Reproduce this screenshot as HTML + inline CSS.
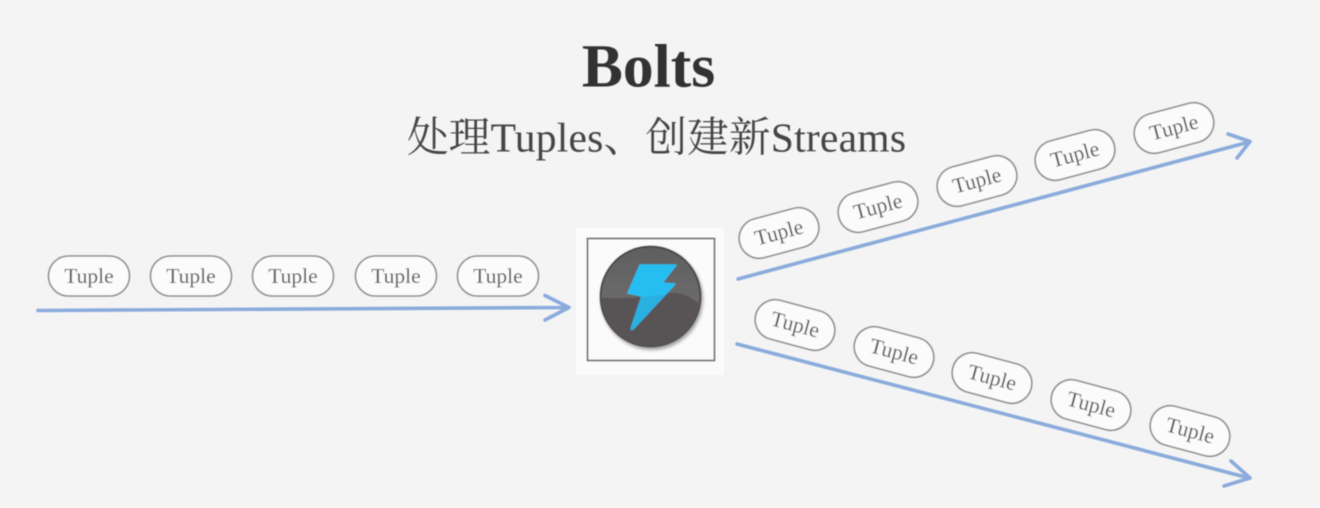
<!DOCTYPE html>
<html lang="zh">
<head>
<meta charset="utf-8">
<title>Bolts</title>
<style>
html,body{margin:0;padding:0;background:#f4f4f4;width:1320px;height:508px;overflow:hidden}
svg{display:block}
text{font-family:"Liberation Serif","Noto Serif CJK SC",serif}
.t text{font-size:21.5px;fill:#565656;text-anchor:middle}
.t rect{fill:#fbfbfb;stroke:#8e8e8e;stroke-width:1.6}
.a{fill:none;stroke:#8aabdc;stroke-width:3.6;stroke-linecap:round;stroke-linejoin:round}
</style>
</head>
<body>
<svg width="1320" height="508" viewBox="0 0 1320 508" xmlns="http://www.w3.org/2000/svg">
<defs>
<filter id="b" x="-5%" y="-5%" width="110%" height="110%"><feGaussianBlur stdDeviation="0.65"/></filter>
<filter id="s" x="-15%" y="-15%" width="130%" height="130%"><feGaussianBlur stdDeviation="1.6"/></filter>
<linearGradient id="top" x1="0" y1="0" x2="0" y2="1"><stop offset="0" stop-color="#5f5f60"/><stop offset="1" stop-color="#747476"/></linearGradient>
<clipPath id="c"><circle cx="650.5" cy="296.5" r="50"/></clipPath>
<clipPath id="lower"><path d="M600 298C625 299 650 297 672 293C683 292 693 298 702 306V350H600Z"/></clipPath>
</defs>
<rect width="1320" height="508" fill="#f4f4f4"/>
<g filter="url(#b)">
<text x="648.500" y="86.500" font-size="61.500" font-weight="700" fill="#333" text-anchor="middle">Bolts</text>
<text x="407" y="151.500" font-size="41.6" fill="#444" textLength="499" lengthAdjust="spacing">处理Tuples、创建新Streams</text>
</g>
<g filter="url(#b)">
<rect x="576" y="228" width="148" height="147" fill="#fbfbfb"/>
<rect x="587.5" y="238.5" width="127" height="122" fill="#fbfbfb" stroke="#7f7f7f" stroke-width="2"/>
<circle cx="652" cy="299" r="51" fill="#a0a0a0" filter="url(#s)"/>
<circle cx="650.5" cy="296.5" r="50" fill="url(#top)" stroke="#4a4a4c" stroke-width="2"/>
<path clip-path="url(#c)" d="M600 298C625 299 650 297 672 293C683 292 693 298 702 306V350H600Z" fill="#585254"/>
<path d="M640 265L676 265L662 283L675 284L634 328Q630 332 632 326L642 296L628 293Z" fill="#26bdf0" stroke="#26bdf0" stroke-width="1.5" stroke-linejoin="round"/>
<path clip-path="url(#lower)" d="M640 265L676 265L662 283L675 284L634 328Q630 332 632 326L642 296L628 293Z" fill="#2cb0e0" stroke="#2cb0e0" stroke-width="1.5" stroke-linejoin="round"/>
</g>
<g filter="url(#b)">
<path class="a" d="M38 310.500L568 307.500M545 295.500L569 307.500L545 320"/>
<path class="a" d="M738 279L1249 142M1228 134L1250 141.500L1237 158"/>
<path class="a" d="M737 344L1249 478M1231 461L1250 478L1224 486"/>
</g>
<g class="t" filter="url(#b)">
<g transform="translate(89 276)"><rect x="-40.500" y="-20" width="81" height="40" rx="20"/><text y="7">Tuple</text></g>
<g transform="translate(191 276)"><rect x="-40.500" y="-20" width="81" height="40" rx="20"/><text y="7">Tuple</text></g>
<g transform="translate(293 276)"><rect x="-40.500" y="-20" width="81" height="40" rx="20"/><text y="7">Tuple</text></g>
<g transform="translate(396 276)"><rect x="-40.500" y="-20" width="81" height="40" rx="20"/><text y="7">Tuple</text></g>
<g transform="translate(498 276)"><rect x="-40.500" y="-20" width="81" height="40" rx="20"/><text y="7">Tuple</text></g>
<g transform="translate(779 233) rotate(-15)"><rect x="-40.500" y="-20" width="81" height="40" rx="20"/><text y="6.500">Tuple</text></g>
<g transform="translate(878 207) rotate(-15)"><rect x="-40.500" y="-20" width="81" height="40" rx="20"/><text y="6.500">Tuple</text></g>
<g transform="translate(977 181) rotate(-15)"><rect x="-40.500" y="-20" width="81" height="40" rx="20"/><text y="6.500">Tuple</text></g>
<g transform="translate(1075 155) rotate(-15)"><rect x="-40.500" y="-20" width="81" height="40" rx="20"/><text y="6.500">Tuple</text></g>
<g transform="translate(1174 128) rotate(-15)"><rect x="-40.500" y="-20" width="81" height="40" rx="20"/><text y="6.500">Tuple</text></g>
<g transform="translate(795 325) rotate(15)"><rect x="-40.500" y="-20" width="81" height="40" rx="20"/><text y="6.500">Tuple</text></g>
<g transform="translate(894 352) rotate(15)"><rect x="-40.500" y="-20" width="81" height="40" rx="20"/><text y="6.500">Tuple</text></g>
<g transform="translate(992 378) rotate(15)"><rect x="-40.500" y="-20" width="81" height="40" rx="20"/><text y="6.500">Tuple</text></g>
<g transform="translate(1091 405) rotate(15)"><rect x="-40.500" y="-20" width="81" height="40" rx="20"/><text y="6.500">Tuple</text></g>
<g transform="translate(1190 431) rotate(15)"><rect x="-40.500" y="-20" width="81" height="40" rx="20"/><text y="6.500">Tuple</text></g>
</g>
</svg>
</body>
</html>
